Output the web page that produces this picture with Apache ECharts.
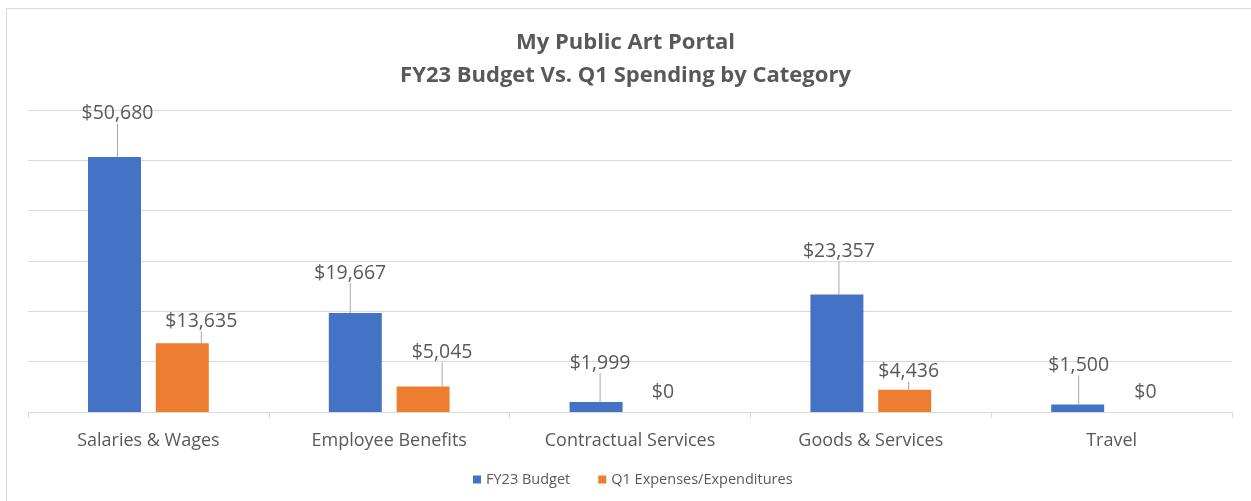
<!DOCTYPE html>
<html>
<head>
<meta charset="utf-8">
<script src="https://cdn.jsdelivr.net/npm/echarts@6/dist/echarts.min.js"></script>
<style>
html,body{margin:0;padding:0;background:#fff;}
#chart{width:1251px;height:501px;}
</style>
</head>
<body>
<div id="chart"></div>
<script>
const titleLines = ['My Public Art Portal', 'FY23 Budget Vs. Q1 Spending by Category'];
const categories = ['Salaries & Wages', 'Employee Benefits', 'Contractual Services', 'Goods & Services', 'Travel'];
const seriesNames = ['FY23 Budget', 'Q1 Expenses/Expenditures'];
const budget = [50680, 19667, 1999, 23357, 1500];
const expenses = [13635, 5045, 0, 4436, 0];
const yTicks = [0, 10000, 20000, 30000, 40000, 50000, 60000];

// label nudges (dx, dy) relative to the default top position
const budgetLabelShift = [[3, -28], [-5, -25], [4, -24], [2, -28], [1, -24]];
const expenseLabelShift = [[19, -7], [19, -19], [-1, -5], [4, -3], [0, -5]];

const fmt = v => '$' + v.toLocaleString('en-US');
const txt = '#595959';
const font = 'Open Sans';

const chart = echarts.init(document.getElementById('chart'), null, {renderer: 'canvas'});

function mk(values, shifts, name, color) {
  return {
    name: name,
    type: 'bar',
    barWidth: '22%',
    barGap: '28%',
    itemStyle: {color: color},
    data: values.map(v => ({value: v, labelLine: {show: v !== 0}})),
    label: {
      show: true,
      position: 'top',
      distance: 5,
      color: txt,
      fontFamily: font,
      fontSize: 19.5,
      formatter: p => fmt(p.value)
    },
    labelLine: {show: true, lineStyle: {color: '#a6a6a6', width: 1}},
    labelLayout: p => ({dx: shifts[p.dataIndex][0], dy: shifts[p.dataIndex][1]})
  };
}

chart.setOption({
  animation: false,
  backgroundColor: '#fff',
  title: {
    text: titleLines.join('\n'),
    left: 'center',
    top: 21,
    textStyle: {color: txt, fontFamily: font, fontWeight: 'bold', fontSize: 22, lineHeight: 33}
  },
  legend: {
    bottom: 9,
    left: 468,
    itemWidth: 8,
    itemHeight: 8,
    itemGap: 28,
    icon: 'rect',
    textStyle: {color: txt, fontFamily: font, fontSize: 14.5}
  },
  grid: {left: 28, right: 19, top: 110, bottom: 89},
  xAxis: {
    type: 'category',
    data: categories,
    axisLine: {lineStyle: {color: '#d9d9d9', width: 1}},
    axisTick: {show: true, length: 6, lineStyle: {color: '#d9d9d9'}},
    axisLabel: {color: txt, fontFamily: font, fontSize: 18, margin: 20}
  },
  yAxis: {
    type: 'value',
    min: yTicks[0],
    max: yTicks[yTicks.length - 1],
    interval: yTicks[1] - yTicks[0],
    axisLabel: {show: false},
    axisLine: {show: false},
    axisTick: {show: false},
    splitLine: {lineStyle: {color: '#d9d9d9', width: 1}}
  },
  series: [
    mk(budget, budgetLabelShift, seriesNames[0], '#4472C4'),
    mk(expenses, expenseLabelShift, seriesNames[1], '#ED7D31')
  ],
  graphic: [
    {type: 'polyline', shape: {points: [[6.5, 501], [6.5, 8.5], [1251, 8.5]]}, style: {stroke: '#d9d9d9', lineWidth: 1, fill: null}}
  ]
});
</script>
</body>
</html>
